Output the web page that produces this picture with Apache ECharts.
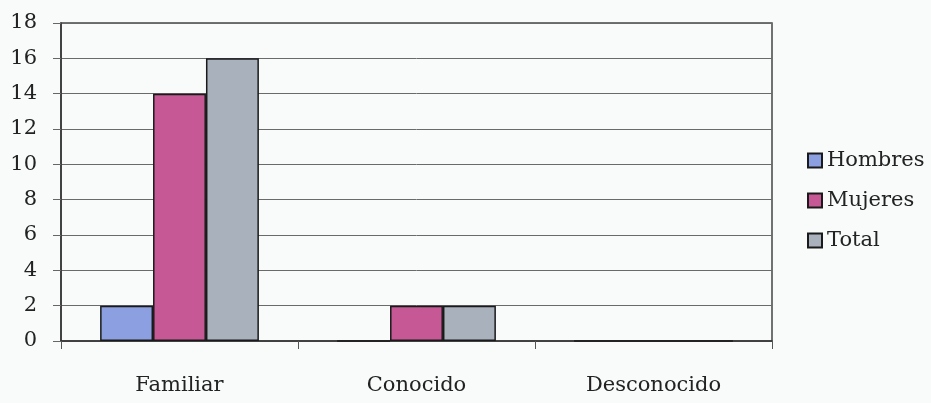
<!DOCTYPE html>
<html>
<head>
<meta charset="utf-8">
<script src="https://cdn.jsdelivr.net/npm/echarts@6/dist/echarts.min.js"></script>
<style>
  html, body { margin: 0; padding: 0; background: #f8fbfa; }
  #chart { width: 931px; height: 403px; }
</style>
</head>
<body>
<div id="chart"></div>
<script>
// Categories and series values
const categories = ['Familiar', 'Conocido', 'Desconocido'];
const hombres = [2, 0, 0];
const mujeres = [14, 2, 0];
const total = [16, 2, 0];
const yTicks = { min: 0, max: 18, interval: 2 };

const fontFamily = '"DejaVu Serif", "Liberation Serif", serif';
const chart = echarts.init(document.getElementById('chart'));

function barSeries(name, data, color) {
  return {
    name: name,
    type: 'bar',
    data: data,
    barGap: '0%',
    barCategoryGap: '33%',
    itemStyle: { color: color, borderColor: '#1a1a1a', borderWidth: 1.5 },
    emphasis: { disabled: true }
  };
}

chart.setOption({
  backgroundColor: '#f8fbfa',
  animation: false,
  grid: {
    left: 61, right: 159, top: 23, bottom: 62,
    show: true, borderColor: '#444', borderWidth: 1.5, backgroundColor: 'transparent'
  },
  legend: {
    orient: 'vertical',
    left: 802,
    top: 145,
    itemWidth: 14,
    itemHeight: 14,
    itemGap: 19,
    icon: 'rect',
    textStyle: { fontFamily: fontFamily, fontSize: 21, color: '#222', padding: [0, 0, 0, 0] },
    data: ['Hombres', 'Mujeres', 'Total']
  },
  xAxis: {
    type: 'category',
    data: categories,
    axisLine: { lineStyle: { color: '#333', width: 1.5 } },
    axisTick: { show: true, alignWithLabel: false, interval: 0, length: 8, lineStyle: { color: '#555' } },
    axisLabel: { fontFamily: fontFamily, fontSize: 21, color: '#222', margin: 34 }
  },
  yAxis: {
    type: 'value',
    min: yTicks.min,
    max: yTicks.max,
    interval: yTicks.interval,
    axisLine: { show: true, lineStyle: { color: '#333', width: 1.5 } },
    axisTick: { show: true, length: 8, lineStyle: { color: '#666' } },
    axisLabel: { fontFamily: fontFamily, fontSize: 21, color: '#222', margin: 24 },
    splitLine: { show: true, lineStyle: { color: '#6a6a6a', width: 1 } }
  },
  series: [
    barSeries('Hombres', hombres, '#8c9fe0'),
    barSeries('Mujeres', mujeres, '#c65896'),
    barSeries('Total', total, '#a9b1bd')
  ]
});
</script>
</body>
</html>
